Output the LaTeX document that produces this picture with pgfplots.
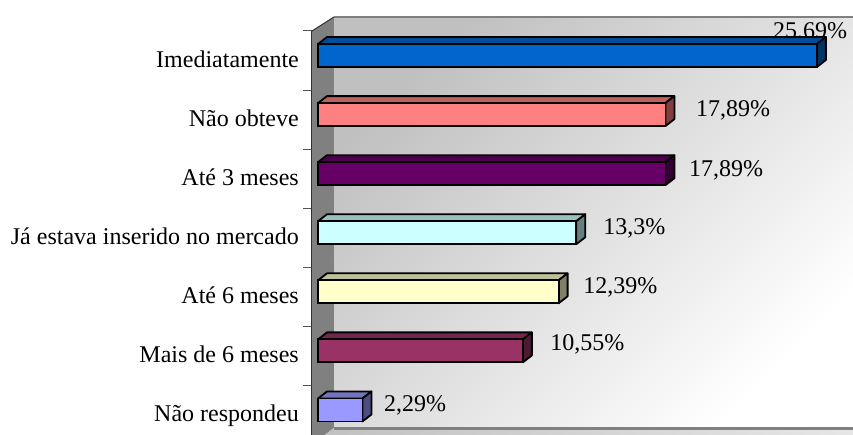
\documentclass[border=0pt]{standalone}
\usepackage{fontspec}
\setmainfont{Liberation Serif}
\usepackage{pgfplots}
\pgfplotsset{compat=1.18}
\definecolor{wallgray}{HTML}{808080}
\definecolor{floorgray}{HTML}{C0C0C0}
\definecolor{axisdark}{HTML}{333333}
\definecolor{tickgray}{HTML}{555555}
\definecolor{blueF}{HTML}{0066CC}\definecolor{blueT}{HTML}{004C99}\definecolor{blueS}{HTML}{003366}
\definecolor{salmonF}{HTML}{FF8080}\definecolor{salmonT}{HTML}{BF6060}\definecolor{salmonS}{HTML}{804040}
\definecolor{purpleF}{HTML}{660066}\definecolor{purpleT}{HTML}{4D004D}\definecolor{purpleS}{HTML}{330033}
\definecolor{cyanF}{HTML}{CCFFFF}\definecolor{cyanT}{HTML}{99BFBF}\definecolor{cyanS}{HTML}{668080}
\definecolor{creamF}{HTML}{FFFFCC}\definecolor{creamT}{HTML}{BFBF99}\definecolor{creamS}{HTML}{808066}
\definecolor{wineF}{HTML}{993366}\definecolor{wineT}{HTML}{732650}\definecolor{wineS}{HTML}{4D1A33}
\definecolor{lilacF}{HTML}{9999FF}\definecolor{lilacT}{HTML}{7373BF}\definecolor{lilacS}{HTML}{4D4D80}
\newcommand{\chartfont}{\fontsize{24}{28}\selectfont}

% Draws one bar with its top and side faces; #1 value, #2 row, #3 colour stem.
\newcommand{\boxbar}[3]{%
  \pgfmathsetmacro{\yTop}{#2+0.2793}%
  \pgfmathsetmacro{\yBot}{#2-0.1101}%
  \pgfmathsetmacro{\yTopB}{\yTop+0.1185}%
  \pgfmathsetmacro{\yBotB}{\yBot+0.1185}%
  \pgfmathsetmacro{\xEndB}{#1+0.4634}%
  \addplot[forget plot,sharp plot,no marks,draw=black,line width=1.8pt,line join=round,fill=#3T]
    coordinates {(0,\yTop) (0.4634,\yTopB) (\xEndB,\yTopB) (#1,\yTop)} -- cycle;%
  \addplot[forget plot,sharp plot,no marks,draw=black,line width=1.8pt,line join=round,fill=#3S]
    coordinates {(#1,\yTop) (\xEndB,\yTopB) (\xEndB,\yBotB) (#1,\yBot)} -- cycle;%
  \addplot[xbar,forget plot,bar shift=5pt,bar width=23pt,draw=black,line width=1.8pt,fill=#3F]
    coordinates {(#1,#2)};%
}

\begin{document}
\begin{tikzpicture}[x=1pt,y=1pt]
\path[use as bounding box,clip] (0,0) rectangle (853,435);
\begin{axis}[
  at={(312pt,-9.5pt)},anchor=south west,
  scale only axis,width=541pt,height=413.5pt,
  xmin=-0.309,xmax=27.55,ymin=-0.5,ymax=6.5,
  clip=false,
  axis x line=none,
  axis y line=left,
  axis line style={-,draw=axisdark,line width=2pt},
  ytick={0,1,2,3,4,5,6},
  yticklabels={Não respondeu,Mais de 6 meses,Até 6 meses,Já estava inserido no mercado,Até 3 meses,Não obteve,Imediatamente},
  minor ytick={-0.5,0.5,1.5,2.5,3.5,4.5,5.5,6.5},
  major tick length=0pt,
  minor tick length=9pt,
  tick align=outside,
  minor tick style={draw=tickgray,line width=1pt},
  yticklabel style={font=\chartfont,text=black,inner sep=0pt,xshift=-13pt,anchor=east,text height=14pt,text depth=0pt},
]
% Side wall, back wall and floor of the plot box
\fill[wallgray] (axis cs:-0.309,6.5) -- (axis cs:0.824,6.738) -- (axis cs:0.824,-0.220) -- (axis cs:-0.309,-0.5) -- cycle;
\shade[top color=floorgray,bottom color=white,shading angle=45] (axis cs:0.824,6.738) rectangle (axis cs:27.55,-0.220);
\shade[left color=floorgray,right color=floorgray!40!white] (axis cs:0.824,-0.220) -- (axis cs:27.55,-0.220) -- (axis cs:27.55,-0.5) -- (axis cs:-0.309,-0.5) -- cycle;
\draw[wallgray,line width=2pt] (axis cs:0.824,6.738) -- (axis cs:27.55,6.738);
\draw[wallgray,line width=3pt] (axis cs:0.824,-0.225) -- (axis cs:27.55,-0.225);
\draw[axisdark,line width=1pt] (axis cs:-0.309,6.5) -- (axis cs:0.824,6.738);

% Value labels
\node[font=\chartfont,anchor=base west,inner sep=0pt] at (axis cs:23.43,6.375) {25,69\%};
\node[font=\chartfont,anchor=base west,inner sep=0pt] at (axis cs:19.46,5.045) {17,89\%};
\node[font=\chartfont,anchor=base west,inner sep=0pt] at (axis cs:19.10,4.030) {17,89\%};
\node[font=\chartfont,anchor=base west,inner sep=0pt] at (axis cs:14.68,3.048) {13,3\%};
\node[font=\chartfont,anchor=base west,inner sep=0pt] at (axis cs:13.65,2.049) {12,39\%};
\node[font=\chartfont,anchor=base west,inner sep=0pt] at (axis cs:11.95,1.084) {10,55\%};
\node[font=\chartfont,anchor=base west,inner sep=0pt] at (axis cs:3.40,0.052) {2,29\%};

% Bars, top row first
\boxbar{25.69}{6}{blue}
\boxbar{17.89}{5}{salmon}
\boxbar{17.89}{4}{purple}
\boxbar{13.3}{3}{cyan}
\boxbar{12.39}{2}{cream}
\boxbar{10.55}{1}{wine}
\boxbar{2.29}{0}{lilac}
\end{axis}
\end{tikzpicture}
\end{document}
